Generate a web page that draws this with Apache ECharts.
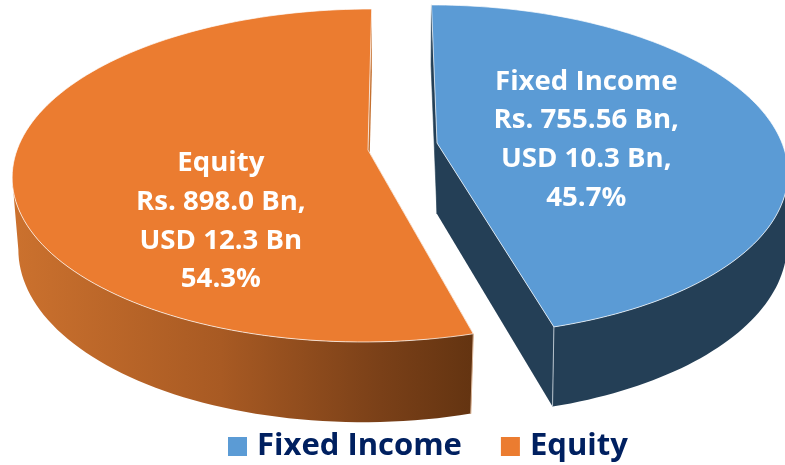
<!DOCTYPE html>
<html>
<head>
<meta charset="utf-8">
<style>
  html, body { margin: 0; padding: 0; background: #fff; }
  #chart { width: 785px; height: 465px; }
</style>
<script src="https://cdn.jsdelivr.net/npm/echarts@6/dist/echarts.min.js"></script>
</head>
<body>
<div id="chart"></div>
<script>
const categories = ['Fixed Income', 'Equity']
const valuesRs = [755.56, 898.0]
const labelLines = [
  ['Fixed Income', 'Rs. 755.56 Bn,', 'USD 10.3 Bn,', '45.7%'],
  ['Equity', 'Rs. 898.0 Bn,', 'USD 12.3 Bn', '54.3%']
]
const colors = ['#5b9bd5', '#eb7c30']

// per slice layout: where the slice's tip sits once exploded, and its lean
const apexes = [[437, 143], [368, 150]]
const shears = [0.04, -0.026]
const labelShift = [[4, 6], [4, 62]]

// perspective disc, top face per slice and bottom face
const topFaces = [
  { rx: 345, ry: 160.7, k: 0.164 },
  { rx: 351, ry: 162.6, k: 0.153 }
]
const bottomFace = { rx: 345, ry: 171, k: 0.15, drop: 71 }

const total = valuesRs.reduce((a, b) => a + b, 0)

function point (i, face, theta, f) {
  const fr = f === undefined ? 1 : f
  const u = Math.sin(theta) * fr
  const v = -Math.cos(theta) * fr
  const w = 1 - face.k * v
  const dy = face.ry * v / w
  const ay = apexes[i][1] + (face.drop || 0)
  return [apexes[i][0] + face.rx * u / w + shears[i] * dy, ay + dy]
}

function sideFill (i) {
  if (i === 0) return '#243f56'
  return new echarts.graphic.LinearGradient(15, 0, 472, 0, [
    { offset: 0, color: '#cb712e' },
    { offset: 0.45, color: '#a85a23' },
    { offset: 0.8, color: '#7a4018' },
    { offset: 1, color: '#643411' }
  ], true)
}

function renderSlice (i) {
  return function (params, api) {
    const topFace = topFaces[i]
    let before = 0
    for (let n = 0; n < i; n++) before += valuesRs[n]
    const a0 = before / total * Math.PI * 2
    const a1 = (before + api.value(0)) / total * Math.PI * 2
    const steps = 120
    const rimTop = []
    const rimBottom = []
    const frontTop = []
    const frontBottom = []
    for (let s = 0; s <= steps; s++) {
      const t = a0 + (a1 - a0) * s / steps
      const pt = point(i, topFace, t)
      const pb = point(i, bottomFace, t)
      rimTop.push(pt)
      rimBottom.push(pb)
      // only the part of the rim facing us, it ends on the tangent of the disc
      if (-Math.cos(t) >= topFace.k) {
        frontTop.push(pt)
        frontBottom.push(pb)
      }
    }
    const apexTop = point(i, topFace, 0, 0)
    const apexBottom = point(i, bottomFace, 0, 0)
    const children = []

    // the two flat walls first
    children.push({
      type: 'polygon',
      shape: { points: [apexTop, rimTop[0], rimBottom[0], apexBottom] },
      style: { fill: i === 0 ? '#243f56' : '#c4702f', stroke: i === 0 ? '#243f56' : '#f2c9a8', lineWidth: 0.6 }
    })
    children.push({
      type: 'polygon',
      shape: { points: [apexTop, rimTop[steps], rimBottom[steps], apexBottom] },
      style: { fill: i === 0 ? '#243f56' : '#c4702f' }
    })

    // round wall
    children.push({
      type: 'polygon',
      shape: { points: frontTop.concat(frontBottom.slice().reverse()) },
      style: { fill: sideFill(i) }
    })

    // corner edge at the slice tip
    const tipIdx = i === 0 ? steps : 0
    children.push({
      type: 'line',
      shape: {
        x1: rimTop[tipIdx][0], y1: rimTop[tipIdx][1],
        x2: rimBottom[tipIdx][0], y2: rimBottom[tipIdx][1]
      },
      style: { stroke: i === 0 ? '#b4c0ca' : '#d9b79c', lineWidth: 1 }
    })

    // top face
    children.push({
      type: 'polygon',
      shape: { points: [apexTop].concat(rimTop) },
      style: { fill: colors[i], stroke: 'rgba(255,255,255,0.7)', lineWidth: 1, lineJoin: 'round' }
    })

    // label
    const mid = (a0 + a1) / 2
    const lp = point(i, topFace, mid, 0.43)
    children.push({
      type: 'text',
      x: lp[0] + labelShift[i][0],
      y: lp[1] + labelShift[i][1],
      style: {
        text: labelLines[i].join('\n'),
        fill: '#fff',
        font: 'bold 27.6px "Open Sans", sans-serif',
        lineHeight: 38.7,
        align: 'center',
        verticalAlign: 'middle'
      }
    })
    return { type: 'group', children: children }
  }
}

const chart = echarts.init(document.getElementById('chart'), null, { renderer: 'canvas' })
chart.setOption({
  animation: false,
  legend: {
    data: categories,
    left: 228,
    top: 431,
    icon: 'rect',
    itemWidth: 19,
    itemHeight: 19,
    itemGap: 39,
    selectedMode: false,
    padding: 0,
    textStyle: {
      color: '#002060',
      fontFamily: 'Open Sans',
      fontWeight: 'bold',
      fontSize: 31,
      padding: [4, 0, 0, 5]
    }
  },
  series: categories.map(function (name, i) {
    return {
      type: 'custom',
      name: name,
      coordinateSystem: 'none',
      itemStyle: { color: colors[i] },
      renderItem: renderSlice(i),
      data: [valuesRs[i]],
      silent: true
    }
  }).reverse()
})
</script>
</body>
</html>
